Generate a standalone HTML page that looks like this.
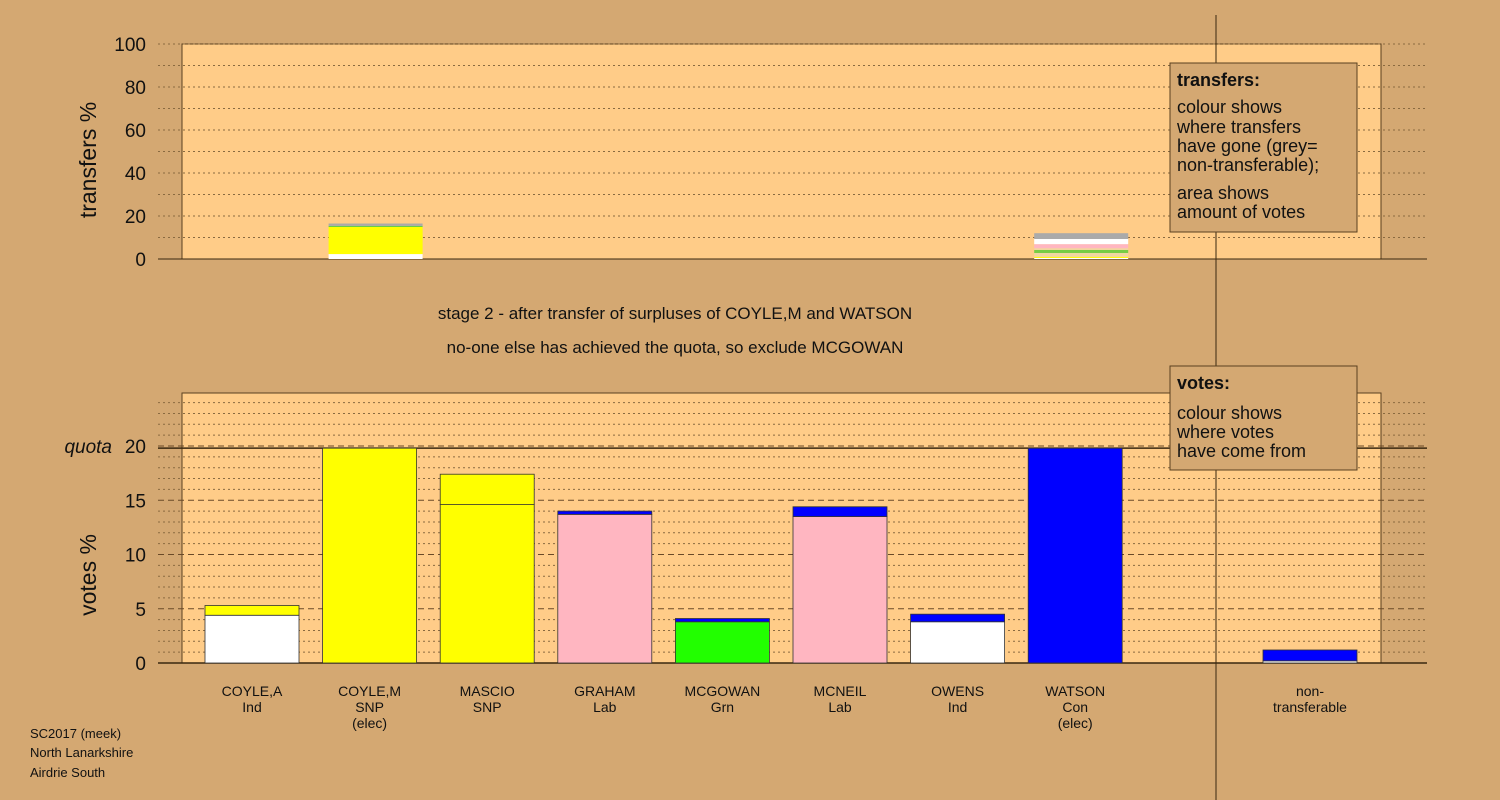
<!DOCTYPE html>
<html><head><meta charset="utf-8"><style>
body{margin:0;background:#d4a872;}
svg{display:block;font-family:"Liberation Sans",sans-serif;}
</style></head><body>
<svg id="c" width="1500" height="800"></svg>
<script>
const candidates=["COYLE,A","COYLE,M","MASCIO","GRAHAM","MCGOWAN","MCNEIL","OWENS","WATSON"];
const parties=["Ind","SNP","SNP","Lab","Grn","Lab","Ind","Con"];
const elected=[false,true,false,false,false,false,false,true];
// vote segments per candidate: [colour, value]
const voteSegs=[
 [["#ffffff",4.4],["#ffff00",0.9]],
 [["#ffff00",19.8]],
 [["#ffff00",14.6],["#ffff00",2.8]],
 [["#ffb6c1",13.7],["#0000ff",0.3]],
 [["#22ff00",3.8],["#0000ff",0.3]],
 [["#ffb6c1",13.5],["#0000ff",0.9]],
 [["#ffffff",3.8],["#0000ff",0.7]],
 [["#0000ff",19.8]]
];
const nonTransSegs=[["#ffffff",0.2],["#0000ff",1.0]];
// transfer segments for surplus sources (candidate index -> segments)
const transferIdx=[1,7];
const transferSegs=[
 [["#ffffff",2.3],["#ffff00",12.6],["#66cc44",0.5],["#aaaaaa",1.1]],
 [["#ffffff",0.5],["#ffff00",0.5],["#f0d7a0",1.8],["#77cc44",1.4],["#f0d7a0",0.8],["#ffb6c1",1.9],["#ffffff",2.4],["#aaaaaa",2.7]]
];
const quota=19.8;
const topTicks=[0,20,40,60,80,100];
const botTicks=[0,5,10,15,20];

const S=document.getElementById('c');const NS="http://www.w3.org/2000/svg";
function el(t,a,txt){const e=document.createElementNS(NS,t);for(const k in a)e.setAttribute(k,a[k]);if(txt!==undefined)e.textContent=txt;S.appendChild(e);return e;}
const X0=182,X1=1381,GX0=158,GX1=1427;
const xc=i=>252+i*117.6, xNT=1310, BW=94;
const yT=v=>259-v*2.15, yB=v=>663-v*10.85;
// panels
let e=el('rect',{x:X0,y:44,width:X1-X0,height:215,fill:'#ffcc88',stroke:'#5a4020','stroke-width':1});

e=el('rect',{x:X0,y:393,width:X1-X0,height:270,fill:'#ffcc88',stroke:'#5a4020','stroke-width':1});

// top grid
for(let v=0;v<=100;v+=10){if(v>0){e=el('line',{x1:GX0,x2:GX1,y1:yT(v),y2:yT(v),stroke:'#8a6a40','stroke-dasharray':'2,3','stroke-width':1});}}
for(let v=1;v<=24;v++){const major=v%5==0;e=el('line',{x1:GX0,x2:GX1,y1:yB(v),y2:yB(v),stroke:major?'#6a4a28':'#8a6a40','stroke-dasharray':major?'6,4':'2,3','stroke-width':1});}
e=el('line',{x1:GX0,x2:GX1,y1:259,y2:259,stroke:'#3a2810'});
e=el('line',{x1:GX0,x2:GX1,y1:663,y2:663,stroke:'#3a2810','stroke-width':1.5});
e=el('line',{x1:GX0,x2:GX1,y1:yB(quota),y2:yB(quota),stroke:'#3a2810','stroke-width':1.5});
// ticks
topTicks.forEach(t=>{e=el('text',{x:146,y:yT(t)+7,'font-size':19,'text-anchor':'end',fill:'#111'},t);});
botTicks.forEach(t=>{e=el('text',{x:146,y:yB(t)+7,'font-size':19,'text-anchor':'end',fill:'#111'},t);});
e=el('text',{x:112,y:yB(20)+7,'font-size':19,'text-anchor':'end','font-style':'italic',fill:'#111'},'quota');
e=el('text',{x:0,y:0,'font-size':23,'text-anchor':'middle',fill:'#111',transform:'translate(96,160) rotate(-90)'},'transfers %');
e=el('text',{x:0,y:0,'font-size':23,'text-anchor':'middle',fill:'#111',transform:'translate(96,575) rotate(-90)'},'votes %');
// bars
function stack(segs,cx,yf,name){let acc=0;segs.forEach(s=>{const y1=yf(acc+s[1]),y0=yf(acc);const r=el('rect',{x:cx-BW/2,y:y1,width:BW,height:y0-y1,fill:s[0],stroke:name.startsWith('transfer')?'none':'#333','stroke-width':0.8});acc+=s[1];});}
candidates.forEach((c,i)=>{stack(voteSegs[i],xc(i),yB,'vote-bar-'+c.toLowerCase().replace(',','-'));
 const lines=[c,parties[i]];if(elected[i])lines.push('(elec)');
 lines.forEach((l,j)=>{const t=el('text',{x:xc(i),y:696+j*16,'font-size':14,'text-anchor':'middle',fill:'#111'},l);});});
stack(nonTransSegs,xNT,yB,'vote-bar-non-transferable');
['non-','transferable'].forEach((l,j)=>{const t=el('text',{x:xNT,y:696+j*16,'font-size':14,'text-anchor':'middle',fill:'#111'},l);});
transferIdx.forEach((ci,k)=>stack(transferSegs[k],xc(ci)+6,yT,'transfer-bar-'+candidates[ci].toLowerCase().replace(',','-')));
// vertical line
e=el('line',{x1:1216,x2:1216,y1:15,y2:800,stroke:'#3a2810'});
// titles
e=el('text',{x:675,y:319,'font-size':17,'text-anchor':'middle',fill:'#111'},'stage 2 - after transfer of surpluses of COYLE,M and WATSON');
e=el('text',{x:675,y:353,'font-size':17,'text-anchor':'middle',fill:'#111'},'no-one else has achieved the quota, so exclude MCGOWAN');
// legends
e=el('rect',{x:1170,y:63,width:187,height:169,fill:'#d4a872',stroke:'#5a4020'});
e=el('text',{x:1177,y:86,'font-size':18,'font-weight':'bold',fill:'#111'},'transfers:');
[['colour shows',113],['where transfers',133],['have gone (grey=',152],['non-transferable);',171],['area shows',199],['amount of votes',218]].forEach(a=>{const t=el('text',{x:1177,y:a[1],'font-size':18,fill:'#111'},a[0]);});
e=el('rect',{x:1170,y:366,width:187,height:104,fill:'#d4a872',stroke:'#5a4020'});
e=el('text',{x:1177,y:389,'font-size':18,'font-weight':'bold',fill:'#111'},'votes:');
[['colour shows',419],['where votes',438],['have come from',457]].forEach(a=>{const t=el('text',{x:1177,y:a[1],'font-size':18,fill:'#111'},a[0]);});
// footer
[['SC2017 (meek)',738],['North Lanarkshire',757],['Airdrie South',777]].forEach(a=>{const t=el('text',{x:30,y:a[1],'font-size':13,fill:'#111'},a[0]);});
</script>
</body></html>
